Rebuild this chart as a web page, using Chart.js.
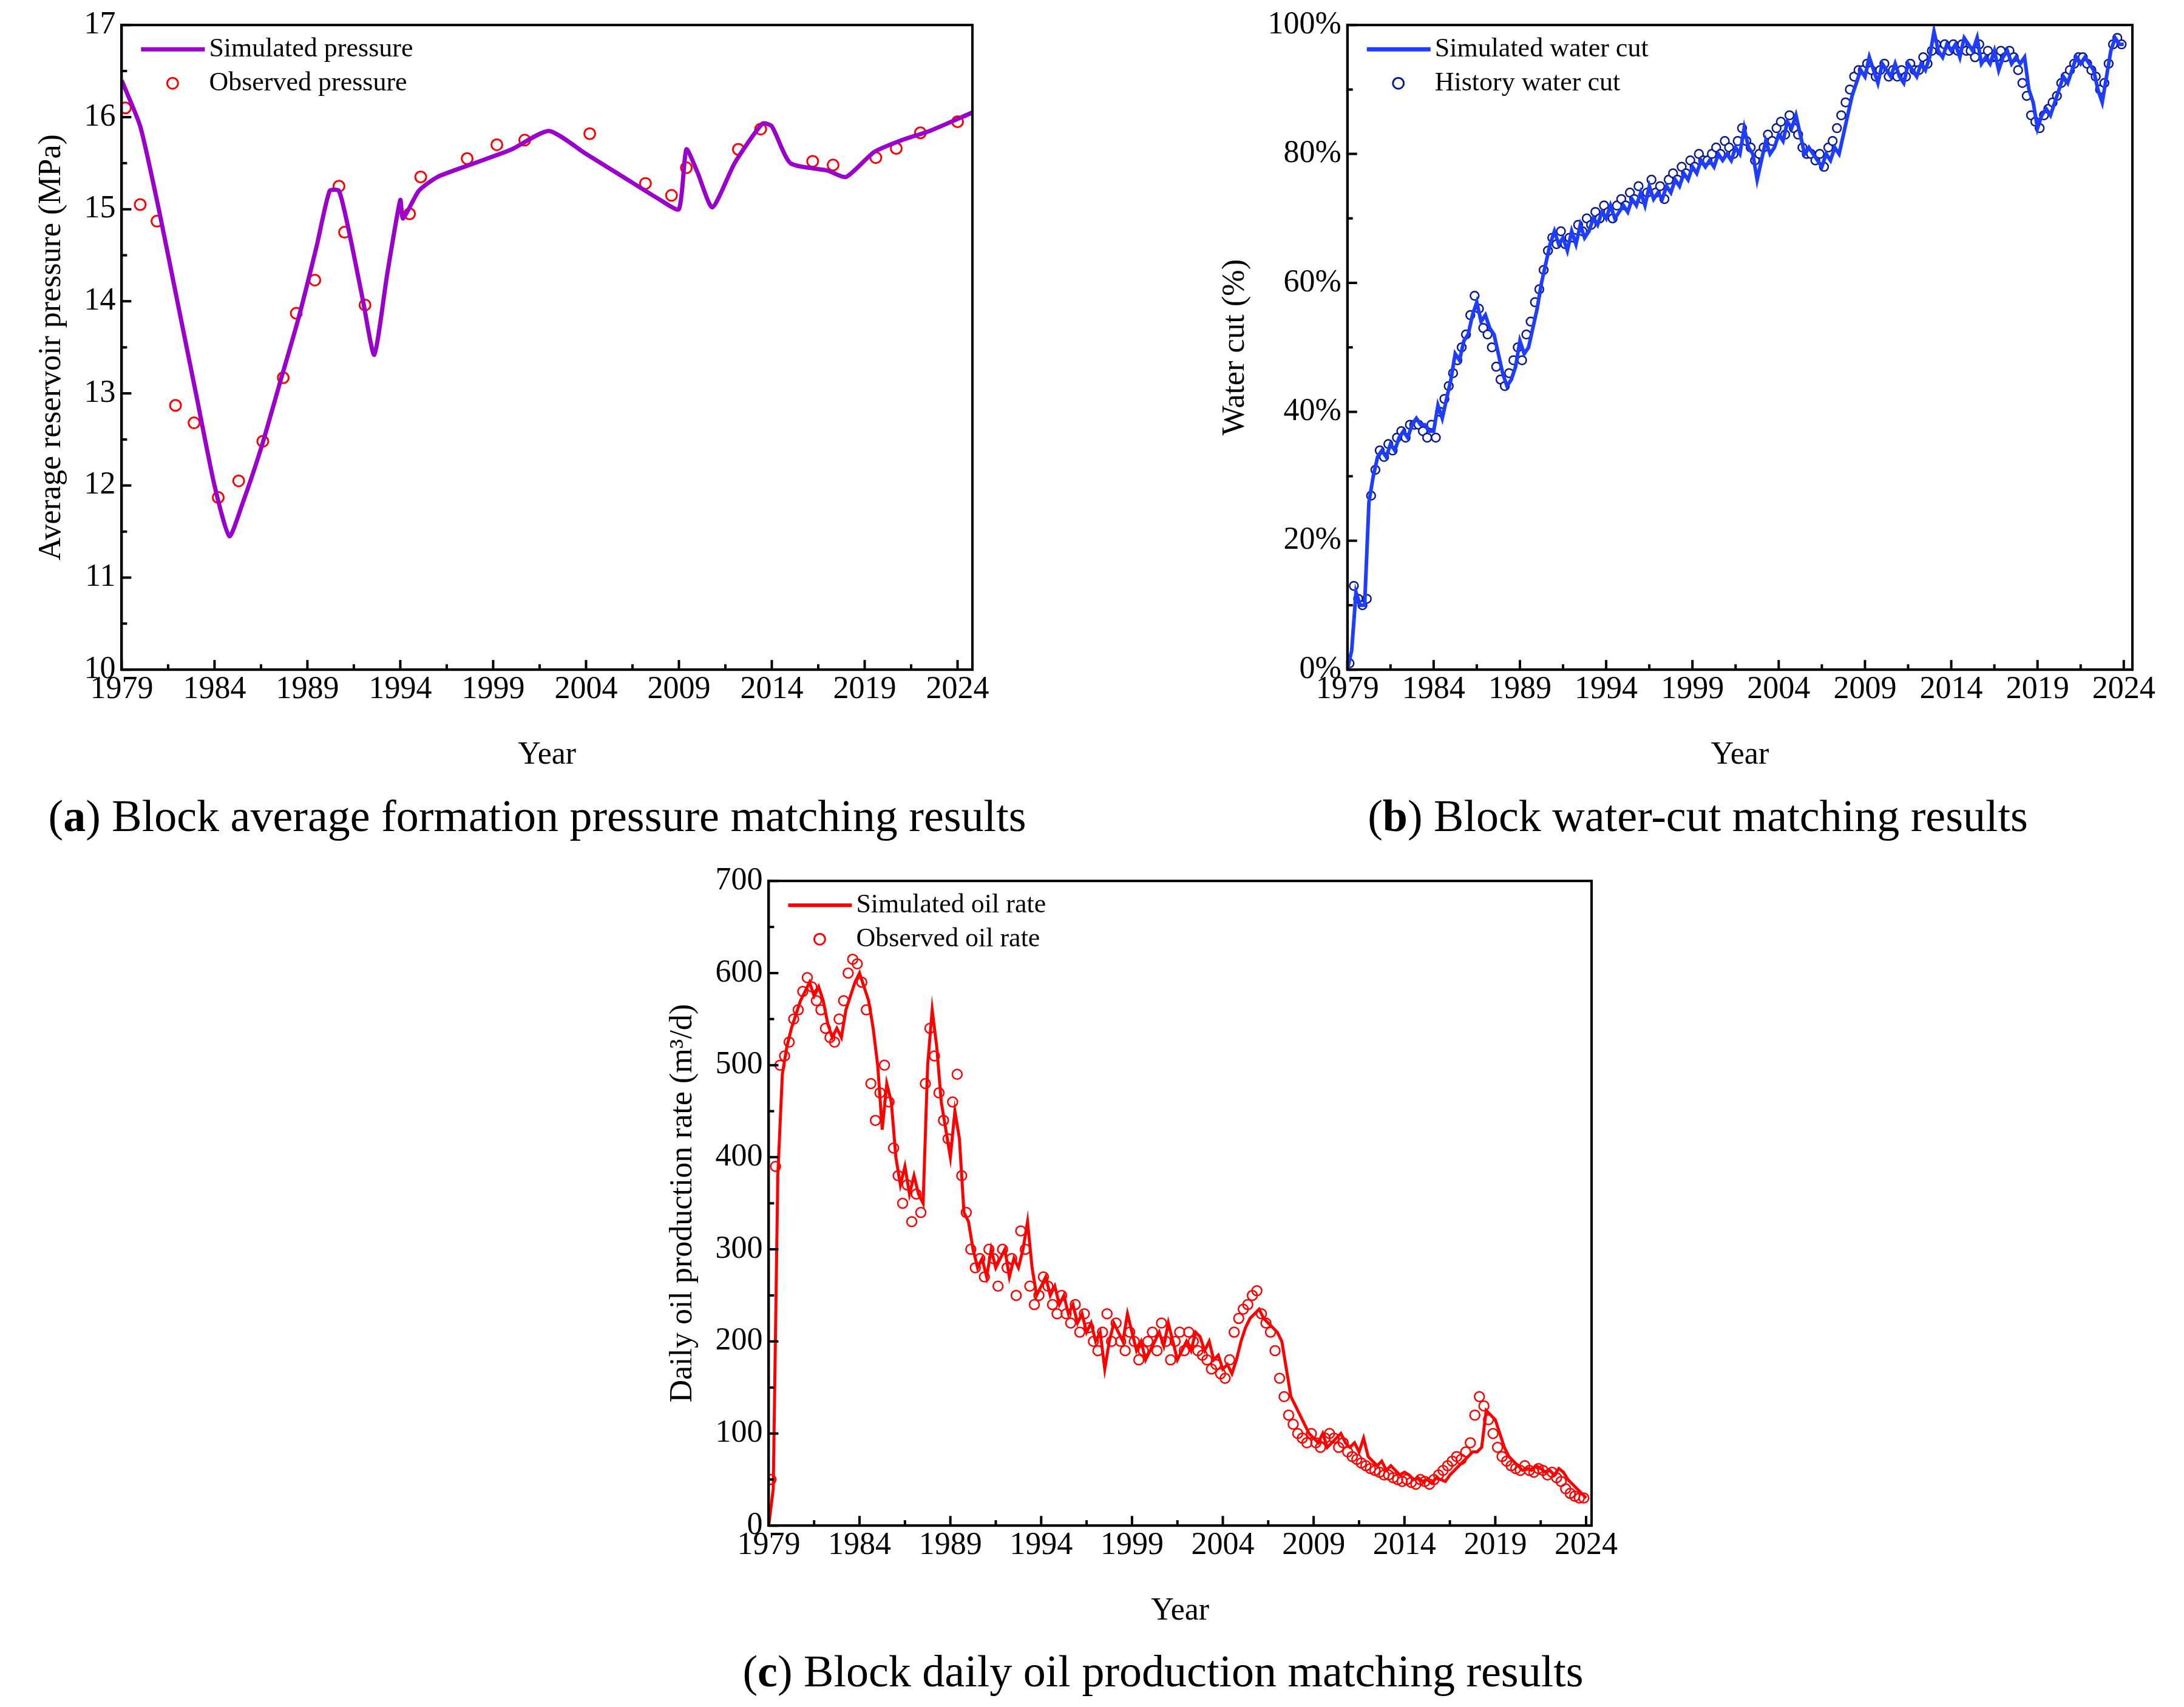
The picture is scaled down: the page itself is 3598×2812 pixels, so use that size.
<!DOCTYPE html>
<html><head><meta charset="utf-8">
<script src="https://cdn.jsdelivr.net/npm/chart.js@4.4.1/dist/chart.umd.min.js"></script>
<style>
body{margin:0;width:3598px;height:2812px;background:#fff;position:relative;overflow:hidden;font-family:"Liberation Serif",serif;}
canvas{position:absolute;}
.cap{position:absolute;font-size:74px;color:#000;white-space:nowrap;transform:translate(-50%,-50%);}
</style></head><body>
<canvas id="ca" style="left:0px;top:0px" width="1680" height="1290"></canvas>
<canvas id="cb" style="left:1940px;top:0px" width="1658" height="1290"></canvas>
<canvas id="cc" style="left:1030px;top:1410px" width="1680" height="1290"></canvas>
<div class="cap" style="left:885px;top:1344px">(<b>a</b>) Block average formation pressure matching results</div>
<div class="cap" style="left:2797px;top:1344px">(<b>b</b>) Block water-cut matching results</div>
<div class="cap" style="left:1916px;top:2753px">(<b>c</b>) Block daily oil production matching results</div>
<script>
// ---- Data ----
const xTicks = [1979,1984,1989,1994,1999,2004,2009,2014,2019,2024];
// (a) pressure
const simPressYears = [1979,1980,1981,1982,1983,1984,1984.8,1985.5,1986.5,1987.5,1988.5,1989.5,1990.2,1990.7,1991.3,1992,1992.6,1993.3,1994,1994.15,1995,1996,1998,2000,2002,2004,2006,2008,2009,2009.4,2010,2010.8,2012,2013.5,2014,2015,2017,2018,2019.5,2021,2022.5,2024.8];
const simPress = [16.4,15.9,15.0,14.0,13.0,12.0,11.45,11.8,12.4,13.1,13.8,14.6,15.2,15.2,14.7,14.0,13.42,14.3,15.1,14.9,15.2,15.35,15.5,15.65,15.85,15.6,15.35,15.1,15.0,15.65,15.4,15.02,15.5,15.93,15.9,15.5,15.42,15.35,15.62,15.75,15.85,16.05];
const obsPressYears = [1979.2,1980,1980.9,1981.9,1982.9,1984.2,1985.3,1986.6,1987.7,1988.4,1989.4,1990.7,1991,1992.1,1994.5,1995.1,1997.6,1999.2,2000.7,2004.2,2007.2,2008.6,2009.4,2012.2,2013.4,2016.2,2017.3,2019.6,2020.7,2022,2024];
const obsPress = [16.1,15.05,14.87,12.87,12.68,11.87,12.05,12.48,13.17,13.87,14.23,15.25,14.75,13.96,14.95,15.35,15.55,15.7,15.75,15.82,15.28,15.15,15.45,15.65,15.87,15.52,15.48,15.56,15.66,15.83,15.95];
// (b) water cut, quarterly from 1979.0 (sim) and 1979.125 (history)
const simWaterCut = [0,3,12,10, 10,26,30,33, 34,33,35,34, 36,37,36,38, 39,38,38,37, 37,41,39,42, 45,49,48,51, 52,55,57,54, 55,53,52,49, 46,44,45,47, 51,49,50,53, 56,60,63,66, 68,66,67,65, 68,66,69,67, 68,70,69,71, 70,72,70,71, 72,71,73,72, 74,72,75,73, 74,73,75,74, 76,75,77,76, 78,77,79,78, 79,78,80,79, 80,79,81,80, 84,81,80,76, 79,82,80,81, 83,82,85,84, 86,83,80,81, 80,79,78,80, 79,81,80,83, 86,89,91,93, 92,95,93,91, 94,93,92,94, 92,91,94,93, 92,94,93,95, 99,96,95,97, 96,97,95,98, 97,96,98,94, 95,94,96,93, 95,96,94,95, 94,95,90,88, 84,86,87,86, 88,90,92,91, 93,95,94,95, 94,93,90,88, 92,96,98,97, 97];
const histWaterCut = [1,13,11,10, 11,27,31,34, 33,35,34,36, 37,36,38,38, 38,37,36,38, 36,40,42,44, 46,48,50,52, 55,58,56,53, 52,50,47,45, 44,46,48,50, 48,52,54,57, 59,62,65,67, 66,68,66,67, 67,69,68,70, 69,71,70,72, 71,70,72,73, 72,74,73,75, 73,74,76,74, 75,73,76,77, 76,78,77,79, 78,80,79,79, 80,81,80,82, 81,80,82,84, 82,81,79,80, 81,83,82,84, 85,83,86,84, 83,81,80,80, 79,80,78,81, 82,84,86,88, 90,92,93,93, 94,93,92,93, 94,92,93,92, 93,92,94,93, 93,95,94,96, 97,96,97,96, 97,96,97,96, 96,95,97,95, 96,95,95,96, 95,96,95,93, 91,89,86,85, 84,86,87,88, 89,91,92,93, 94,95,95,94, 93,92,90,91, 94,97,98,97];
// (c) oil rate, quarterly
const simOil = [0,40,380,490, 520,540,555,570, 580,590,575,585, 570,545,530,540, 530,560,575,590, 600,585,570,540, 500,430,480,460, 400,370,390,360, 380,360,350,500, 560,520,460,430, 400,450,420,340, 330,300,280,290, 270,300,280,290, 300,270,290,280, 300,330,280,250, 260,270,250,260, 240,250,230,240, 220,230,210,220, 200,210,170,200, 220,210,200,230, 210,190,200,180, 190,200,210,195, 220,200,180,190, 200,190,210,205, 190,200,180,185, 170,175,165,180, 200,215,225,230, 235,225,220,215, 210,200,170,140, 130,120,110,100, 95,90,100,85, 90,95,100,90, 85,90,80,95, 75,70,65,70, 60,65,60,55, 58,55,50,52, 48,50,46,52, 50,48,55,60, 65,70,75,80, 80,85,125,120, 115,100,85,75, 70,65,60,62, 60,65,62,58, 60,55,62,58, 50,45,40,35, 30];
const obsOil = [50,390,500,510, 525,550,560,580, 595,585,570,560, 540,530,525,550, 570,600,615,610, 590,560,480,440, 470,500,460,410, 380,350,370,330, 360,340,480,540, 510,470,440,420, 460,490,380,340, 300,280,290,270, 300,290,260,300, 280,290,250,320, 300,260,240,250, 270,260,240,230, 250,230,220,240, 210,230,215,200, 190,210,230,200, 220,200,190,210, 200,180,190,200, 210,190,220,200, 180,200,210,190, 210,200,190,185, 180,170,175,165, 160,180,210,225, 235,240,250,255, 230,220,210,190, 160,140,120,110, 100,95,90,100, 90,85,95,100, 95,85,90,80, 75,72,68,65, 62,60,58,55, 55,52,50,48, 50,47,45,50, 48,45,50,55, 60,65,70,75, 72,80,90,120, 140,130,115,100, 85,75,70,65, 62,60,65,60, 58,62,60,55, 58,52,48,40, 35,32,30,30];

const toXY = (xs, ys) => ys.map((v,i)=>({x:xs[i],y:v}));
const quarterly = (ys, start) => ys.map((v,i)=>({x:start+i*0.25,y:v}));

const FONT = '"Liberation Serif", serif';
Chart.defaults.font.family = FONT;
Chart.defaults.color = '#000';

const frame = {
  id:'frame',
  afterDraw(c){
    const a=c.chartArea, g=c.ctx, sx=c.scales.x, sy=c.scales.y;
    g.save(); g.strokeStyle='#000'; g.lineWidth=4;
    g.strokeRect(a.left,a.top,a.right-a.left,a.bottom-a.top);
    g.beginPath();
    const xt=sx.ticks.map(t=>t.value), yt=sy.ticks.map(t=>t.value);
    xt.forEach(v=>{const p=sx.getPixelForValue(v); g.moveTo(p,a.bottom); g.lineTo(p,a.bottom-16);});
    for(let i=0;i<xt.length;i++){const m=xt[i]+(xt[1]-xt[0])/2; if(m<sx.max){const p=sx.getPixelForValue(m); g.moveTo(p,a.bottom); g.lineTo(p,a.bottom-9);}}
    yt.forEach(v=>{const p=sy.getPixelForValue(v); g.moveTo(a.left,p); g.lineTo(a.left+16,p);});
    for(let i=0;i<yt.length-1;i++){const p=sy.getPixelForValue((yt[i]+yt[i+1])/2); g.moveTo(a.left,p); g.lineTo(a.left+9,p);}
    g.stroke(); g.restore();
  }
};
const legendPlug = {
  id:'legendPlug',
  afterDraw(c, args, o){
    const a=c.chartArea, g=c.ctx;
    g.save();
    g.font = '44px '+FONT; g.fillStyle='#000'; g.textBaseline='middle';
    const x0=a.left+32, y1=a.top+40, y2=a.top+96;
    g.strokeStyle=o.line; g.lineWidth=o.lw;
    g.beginPath(); g.moveTo(x0,y1); g.lineTo(x0+105,y1); g.stroke();
    g.fillText(o.t1, x0+112, y1);
    g.strokeStyle=o.pt; g.lineWidth=3;
    g.beginPath(); g.arc(x0+52,y2,9,0,Math.PI*2); g.stroke();
    g.fillText(o.t2, x0+112, y2);
    g.restore();
  }
};

function makeChart(id, cfg){
  return new Chart(document.getElementById(id), {
    type:'scatter',
    data:{datasets:cfg.datasets},
    plugins:[frame, legendPlug],
    options:{
      responsive:false, animation:false,
      layout:{padding:cfg.pad},
      plugins:{legend:{display:false}, tooltip:{enabled:false}, legendPlug:cfg.legend},
      scales:{
        x:{type:'linear', min:1979, max:cfg.xmax,
          afterBuildTicks:s=>{s.ticks=xTicks.map(v=>({value:v}));},
          ticks:{font:{size:52}, maxRotation:0, autoSkip:false, padding:2, callback:v=>String(v)},
          grid:{display:false, drawTicks:false},
          border:{display:true,color:'#000',width:4},
          title:{display:true,text:'Year',font:{size:52},padding:{top:44}}},
        y:{min:cfg.ymin, max:cfg.ymax,
          afterBuildTicks:s=>{s.ticks=cfg.yticks.map(v=>({value:v}));},
          ticks:{font:{size:52}, padding:10, callback:cfg.ycb},
          grid:{display:false, drawTicks:false},
          border:{display:true,color:'#000',width:4},
          title:{display:true,text:cfg.ytitle,font:{size:52},padding:{bottom:12}}}
      }
    }
  });
}

makeChart('ca', {
  xmax:2024.8, ymin:10, ymax:17, yticks:[10,11,12,13,14,15,16,17], ycb:v=>String(v),
  ytitle:'Average reservoir pressure (MPa)', pad:{top:39,right:78,left:50,bottom:10},
  legend:{line:'#9900cc', lw:7, pt:'#ff0000', t1:'Simulated pressure', t2:'Observed pressure'},
  datasets:[
    {data:toXY(simPressYears,simPress), showLine:true, borderColor:'#9900cc', borderWidth:7, pointRadius:0, tension:0.2},
    {data:toXY(obsPressYears,obsPress), showLine:false, borderColor:'#ff0000', backgroundColor:'rgba(0,0,0,0)', borderWidth:3, pointRadius:9}
  ]
});
makeChart('cb', {
  xmax:2024.5, ymin:0, ymax:100, yticks:[0,20,40,60,80,100], ycb:v=>v+'%',
  ytitle:'Water cut (%)', pad:{top:39,right:85,left:60,bottom:10},
  legend:{line:'#1f3dff', lw:7, pt:'#0a1a8c', t1:'Simulated water cut', t2:'History water cut'},
  datasets:[
    {data:quarterly(simWaterCut,1979), showLine:true, borderColor:'#1f3dff', borderWidth:6, pointRadius:0},
    {data:quarterly(histWaterCut,1979.125), showLine:false, borderColor:'#0a1a8c', backgroundColor:'rgba(255,255,255,0.9)', borderWidth:2.5, pointRadius:7}
  ]
});
makeChart('cc', {
  xmax:2024.3, ymin:0, ymax:700, yticks:[0,100,200,300,400,500,600,700], ycb:v=>String(v),
  ytitle:'Daily oil production rate (m³/d)', pad:{top:39,right:88,left:60,bottom:10},
  legend:{line:'#ff0000', lw:6, pt:'#ff0000', t1:'Simulated oil rate', t2:'Observed oil rate'},
  datasets:[
    {data:quarterly(simOil,1979), showLine:true, borderColor:'#ff0000', borderWidth:5, pointRadius:0},
    {data:quarterly(obsOil,1979.125), showLine:false, borderColor:'#ff0000', backgroundColor:'rgba(0,0,0,0)', borderWidth:2.5, pointRadius:8}
  ]
});
</script>
</body></html>
